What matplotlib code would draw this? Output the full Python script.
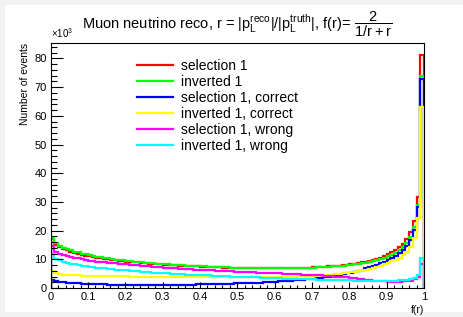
import numpy as np
import matplotlib
matplotlib.use('Agg')
import matplotlib.pyplot as plt
from matplotlib.patches import Rectangle
from matplotlib.ticker import MultipleLocator

plt.rcParams['font.family'] = ['Liberation Sans', 'DejaVu Sans']
plt.rcParams['mathtext.fontset'] = 'custom'
plt.rcParams['mathtext.rm'] = 'Liberation Sans'
plt.rcParams['mathtext.default'] = 'regular'

# 100 bins of f(r) from 0 to 1, counts in thousands
edges = np.linspace(0, 1, 101)

sel1 = [17.0, 15.0, 14.2, 13.6, 13.1, 12.6, 12.2, 11.9, 11.6, 11.3,
        11.0, 10.8, 10.6, 10.4, 10.2, 10.0, 9.9, 9.7, 9.5, 9.4,
        9.2, 9.1, 9.0, 8.9, 8.7, 8.6, 8.5, 8.4, 8.3, 8.2,
        8.1, 8.0, 7.9, 7.9, 7.8, 7.7, 7.6, 7.6, 7.5, 7.5,
        7.4, 7.4, 7.3, 7.3, 7.2, 7.2, 7.1, 7.1, 7.0, 7.0,
        7.0, 6.9, 6.9, 6.9, 6.8, 6.8, 6.8, 6.8, 6.8, 6.8,
        6.8, 6.8, 6.8, 6.9, 6.9, 6.9, 7.0, 7.0, 7.1, 7.1,
        7.2, 7.2, 7.3, 7.4, 7.5, 7.6, 7.7, 7.8, 8.0, 8.1,
        8.3, 8.5, 8.7, 8.9, 9.2, 9.5, 9.8, 10.2, 10.6, 11.1,
        11.7, 12.4, 13.2, 14.2, 15.4, 17.0, 19.6, 23.5, 31.8, 81.2]

inv1 = [17.6, 15.6, 14.8, 14.1, 13.6, 13.1, 12.7, 12.4, 12.0, 11.7,
        11.4, 11.2, 10.9, 10.7, 10.5, 10.3, 10.1, 9.9, 9.8, 9.6,
        9.5, 9.3, 9.2, 9.1, 8.9, 8.8, 8.7, 8.6, 8.5, 8.4,
        8.3, 8.2, 8.1, 8.0, 7.9, 7.9, 7.8, 7.7, 7.7, 7.6,
        7.5, 7.5, 7.4, 7.4, 7.3, 7.3, 7.2, 7.2, 7.1, 7.1,
        7.0, 7.0, 7.0, 6.9, 6.9, 6.9, 6.8, 6.8, 6.8, 6.8,
        6.8, 6.8, 6.8, 6.8, 6.9, 6.9, 6.9, 7.0, 7.0, 7.1,
        7.1, 7.2, 7.2, 7.3, 7.4, 7.5, 7.6, 7.7, 7.8, 7.9,
        8.1, 8.2, 8.4, 8.6, 8.8, 9.1, 9.4, 9.7, 10.1, 10.5,
        11.0, 11.6, 12.3, 13.1, 14.2, 15.6, 17.8, 21.4, 28.9, 73.8]

sel1_correct = [2.9, 2.4, 2.2, 2.0, 1.9, 1.8, 1.7, 1.6, 1.5, 1.5,
                1.4, 1.4, 1.3, 1.3, 1.3, 1.2, 1.2, 1.2, 1.2, 1.1,
                1.1, 1.1, 1.1, 1.1, 1.1, 1.1, 1.1, 1.1, 1.1, 1.1,
                1.1, 1.1, 1.1, 1.1, 1.2, 1.2, 1.2, 1.2, 1.2, 1.3,
                1.3, 1.3, 1.3, 1.4, 1.4, 1.4, 1.5, 1.5, 1.5, 1.6,
                1.6, 1.7, 1.7, 1.8, 1.8, 1.9, 1.9, 2.0, 2.1, 2.2,
                2.2, 2.3, 2.4, 2.5, 2.6, 2.7, 2.8, 2.9, 3.0, 3.1,
                3.2, 3.4, 3.5, 3.7, 3.9, 4.1, 4.3, 4.5, 4.8, 5.1,
                5.4, 5.7, 6.0, 6.4, 6.8, 7.2, 7.6, 8.1, 8.6, 9.2,
                9.8, 10.5, 11.3, 12.2, 13.3, 14.8, 16.9, 20.2, 28.3, 72.9]

inv1_correct = [6.0, 5.3, 4.9, 4.7, 4.6, 4.5, 4.4, 4.4, 4.3, 4.3,
                4.3, 4.2, 4.2, 4.2, 4.2, 4.1, 4.1, 4.1, 4.1, 4.1,
                4.1, 4.0, 4.0, 4.0, 4.0, 4.0, 4.0, 3.9, 3.9, 3.9,
                3.9, 3.9, 3.9, 3.9, 3.8, 3.8, 3.8, 3.8, 3.8, 3.8,
                3.8, 3.7, 3.7, 3.7, 3.7, 3.7, 3.7, 3.7, 3.7, 3.7,
                3.7, 3.7, 3.7, 3.7, 3.7, 3.7, 3.7, 3.8, 3.8, 3.8,
                3.8, 3.9, 3.9, 3.9, 4.0, 4.0, 4.1, 4.1, 4.2, 4.2,
                4.3, 4.4, 4.4, 4.5, 4.6, 4.7, 4.8, 5.0, 5.1, 5.3,
                5.5, 5.7, 5.9, 6.1, 6.4, 6.7, 7.0, 7.4, 7.8, 8.2,
                8.7, 9.3, 9.9, 10.6, 11.5, 12.7, 14.3, 17.4, 24.4, 63.0]

sel1_wrong = [14.5, 12.7, 12.0, 11.5, 11.1, 10.8, 10.5, 10.3, 10.0, 9.8,
              9.5, 9.4, 9.2, 9.1, 8.9, 8.8, 8.7, 8.6, 8.4, 8.3,
              8.2, 8.1, 8.0, 7.9, 7.8, 7.6, 7.5, 7.4, 7.3, 7.2,
              7.1, 7.0, 6.9, 6.8, 6.7, 6.7, 6.6, 6.5, 6.4, 6.4,
              6.3, 6.2, 6.2, 6.1, 6.0, 6.0, 5.9, 5.9, 5.8, 5.7,
              5.7, 5.6, 5.6, 5.5, 5.5, 5.4, 5.4, 5.3, 5.2, 5.2,
              5.1, 5.1, 5.0, 5.0, 4.9, 4.9, 4.8, 4.7, 4.7, 4.6,
              4.5, 4.5, 4.4, 4.3, 4.2, 4.1, 4.0, 3.9, 3.8, 3.7,
              3.5, 3.4, 3.2, 3.1, 2.9, 2.8, 2.6, 2.5, 2.4, 2.3,
              2.2, 2.2, 2.2, 2.2, 2.3, 2.4, 2.6, 3.0, 4.0, 8.4]

inv1_wrong = [11.8, 10.2, 9.6, 9.2, 8.8, 8.5, 8.2, 8.0, 7.8, 7.6,
              7.4, 7.2, 7.1, 6.9, 6.8, 6.7, 6.5, 6.4, 6.3, 6.2,
              6.1, 6.0, 5.9, 5.8, 5.7, 5.6, 5.5, 5.4, 5.3, 5.2,
              5.2, 5.1, 5.0, 4.9, 4.9, 4.8, 4.7, 4.7, 4.6, 4.5,
              4.5, 4.4, 4.4, 4.3, 4.2, 4.2, 4.1, 4.1, 4.0, 4.0,
              3.9, 3.9, 3.8, 3.8, 3.7, 3.7, 3.6, 3.6, 3.5, 3.5,
              3.4, 3.4, 3.3, 3.3, 3.2, 3.2, 3.1, 3.1, 3.0, 3.0,
              3.0, 2.9, 2.9, 2.9, 2.8, 2.8, 2.8, 2.7, 2.7, 2.7,
              2.7, 2.6, 2.6, 2.6, 2.6, 2.6, 2.6, 2.6, 2.6, 2.6,
              2.6, 2.6, 2.6, 2.7, 2.7, 2.8, 3.0, 3.4, 4.5, 10.3]

series = [sel1, inv1, sel1_correct, inv1_correct, sel1_wrong, inv1_wrong]
labels = ['selection 1', 'inverted 1', 'selection 1, correct',
          'inverted 1, correct', 'selection 1, wrong', 'inverted 1, wrong']
colors = ['#ff0000', '#00ff00', '#0000ff', '#ffff00', '#ff00ff', '#00ffff']

fig = plt.figure(figsize=(4.63, 3.17), dpi=100)
fig.patch.set_facecolor('#f2f2f2')
bg = Rectangle((5 / 463, 5 / 317), 1, 307 / 317, transform=fig.transFigure,
               facecolor='white', edgecolor='none', zorder=-10)
fig.patches.append(bg)

ax = fig.add_axes([50.7 / 463, 29 / 317, 373.3 / 463, 245.3 / 317])
ax.set_zorder(5)
for vals, lab, col in zip(series, labels, colors):
    ax.stairs(vals, edges, color=col, lw=1.6, label=lab, baseline=0)

ax.set_xlim(0, 1)
ax.set_ylim(0, 85.5)
ax.xaxis.set_major_locator(MultipleLocator(0.1))
ax.xaxis.set_minor_locator(MultipleLocator(0.02))
ax.yaxis.set_major_locator(MultipleLocator(10))
ax.yaxis.set_minor_locator(MultipleLocator(2))
ax.xaxis.set_major_formatter(plt.FuncFormatter(lambda v, p: '%g' % round(v, 2)))
ax.tick_params(axis='both', which='both', direction='in', labelsize=8,
               top=False, right=False, width=0.8)
ax.tick_params(axis='y', which='major', length=8.5, pad=3)
ax.tick_params(axis='y', which='minor', length=4.3)
ax.tick_params(axis='x', which='major', length=4.5, pad=3)
ax.tick_params(axis='x', which='minor', length=2.2)
for s in ax.spines.values():
    s.set_linewidth(0.8)

ax.text(0.0, 1.01, r'$\times10^{3}$', transform=ax.transAxes, fontsize=7,
        ha='left', va='bottom')
ax.set_ylabel('Number of events', fontsize=7.5, loc='top', labelpad=3)
ax.set_xlabel('f(r)', fontsize=7.5, loc='right', labelpad=2)

fig.text(0.512, 0.925,
         r'Muon neutrino reco, r = |p$_{L}^{reco}$|/|p$_{L}^{truth}$|, f(r)= $\dfrac{2}{1/r + r}$',
         ha='center', va='center', fontsize=10.5, zorder=6)

ax.legend(loc='upper left', bbox_to_anchor=(0.215, 0.957), frameon=False,
          fontsize=10, handlelength=2.6, handletextpad=0.6,
          labelspacing=0.14, borderaxespad=0)

fig.savefig('out.png', dpi=100, facecolor=fig.get_facecolor())
